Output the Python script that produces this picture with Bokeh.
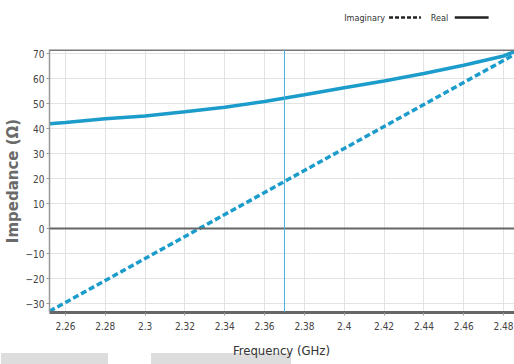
from bokeh.plotting import figure
from bokeh.layouts import column
from bokeh.models import Range1d, Span, FixedTicker, ColumnDataSource, Div
from bokeh.core.properties import value
from bokeh.embed import file_html
from bokeh.resources import INLINE

# Data
freq = [2.252, 2.26, 2.28, 2.30, 2.32, 2.34, 2.36, 2.38, 2.40, 2.42, 2.44, 2.46, 2.48, 2.486]
real = [41.9, 42.4, 43.9, 45.0, 46.7, 48.5, 50.8, 53.5, 56.3, 59.0, 62.0, 65.3, 69.0, 70.9]
imag = [-33.1, -29.6, -20.8, -12.0, -3.2, 5.6, 14.4, 23.2, 32.0, 40.8, 49.6, 58.4, 67.2, 69.8]
x_ticks = [2.26, 2.28, 2.30, 2.32, 2.34, 2.36, 2.38, 2.40, 2.42, 2.44, 2.46, 2.48]
x_tick_labels = ["2.26", "2.28", "2.3", "2.32", "2.34", "2.36", "2.38", "2.4", "2.42", "2.44", "2.46", "2.48"]
y_ticks = [-30, -20, -10, 0, 10, 20, 30, 40, 50, 60, 70]
marker_freq = 2.37
legend_names = ["Imaginary", "Real"]
x_title = "Frequency (GHz)"
y_title = "Impedance (Ω)"

LINE = "#1c9ccb"
FONT = "'Liberation Sans Narrow', 'DejaVu Sans Condensed', sans-serif"

# ---------- legend strip (frame is aligned with the main frame: x 47..514) ----------
leg = figure(width=514, height=30, output_backend="svg", toolbar_location=None,
             x_range=Range1d(47, 514), y_range=Range1d(0, 30),
             min_border=0, min_border_left=47, min_border_right=0, min_border_top=0, min_border_bottom=0)
leg.axis.visible = False
leg.grid.visible = False
leg.outline_line_color = None
leg.text(x=[343, 430], y=[13, 13], text=legend_names, text_font=value(FONT),
         text_font_size="9px", text_color="#333333", text_baseline="middle", text_align="left")
leg.line(x=[388, 420], y=[13, 13], line_color="#222222", line_width=2.5, line_dash="4 2")
leg.line(x=[454, 488], y=[13, 13], line_color="#222222", line_width=2.5)

# ---------- main chart ----------
p = figure(width=514, height=310, output_backend="svg", toolbar_location=None,
           x_range=Range1d(2.252, 2.4855), y_range=Range1d(-33.6, 71.6),
           min_border_left=47, min_border_right=0, min_border_top=19, min_border_bottom=28)
p.outline_line_color = None
p.background_fill_color = "white"
p.border_fill_color = "white"

p.xaxis.ticker = FixedTicker(ticks=x_ticks)
p.xaxis.major_label_overrides = {t: l for t, l in zip(x_ticks, x_tick_labels)}
p.yaxis.ticker = FixedTicker(ticks=y_ticks)
for ax in (p.xaxis, p.yaxis):
    ax.major_label_text_font = FONT
    ax.major_label_text_font_size = "10px"
    ax.major_label_text_color = "#444444"
    ax.minor_tick_line_color = None
    ax.major_tick_line_color = "#999999"
    ax.major_tick_out = 3
    ax.major_tick_in = 0
p.xaxis.axis_line_color = "#666666"
p.xaxis.axis_line_width = 3
p.xaxis.major_label_standoff = 6
p.yaxis.axis_line_color = "#999999"
p.yaxis.axis_line_width = 1.5
p.yaxis.major_label_standoff = 2

p.yaxis.axis_label = y_title
p.yaxis.axis_label_text_font = "DejaVu Sans"
p.yaxis.axis_label_text_font_size = "15px"
p.yaxis.axis_label_text_font_style = "bold"
p.yaxis.axis_label_text_color = "#6a6a6a"
p.yaxis.axis_label_standoff = 1

p.xgrid.grid_line_color = "#e3e3e3"
p.ygrid.grid_line_color = "#e3e3e3"

p.add_layout(Span(location=71.6, dimension="width", line_color="#777777", line_width=3))
p.add_layout(Span(location=0, dimension="width", line_color="#666666", line_width=2))
p.add_layout(Span(location=marker_freq, dimension="height", line_color="#4fb1d6", line_width=1))

src = ColumnDataSource(dict(freq=freq, real=real, imag=imag))
p.line("freq", "real", source=src, line_color=LINE, line_width=3.5)
p.line("freq", "imag", source=src, line_color=LINE, line_width=3.5, line_dash="6 3")

# ---------- bottom strip: x-axis title and the grey patches ----------
bottom = Div(width=514, height=24, text=(
    '<div style="position:relative;width:514px;height:24px;margin:0;padding:0;overflow:visible;">'
    '<div style="position:absolute;left:-4px;top:8px;width:107px;height:20px;background:#dddddd;"></div>'
    '<div style="position:absolute;left:146px;top:8px;width:140px;height:20px;background:#dddddd;"></div>'
    '<div style="position:absolute;left:43px;width:467px;top:-2px;text-align:center;'
    "font-family:'Liberation Sans Narrow','DejaVu Sans Condensed',sans-serif;font-size:13px;"
    'line-height:16px;color:#333333;">' + x_title + '</div>'
    '</div>'))

open("out.html", "w").write(file_html(column(leg, p, bottom, spacing=0), INLINE))
